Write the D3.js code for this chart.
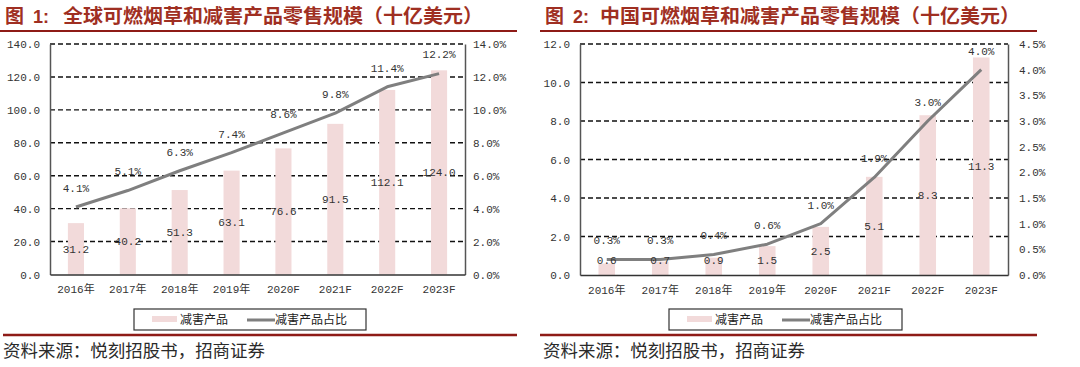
<!DOCTYPE html>
<html><head><meta charset="utf-8">
<script src="https://cdn.jsdelivr.net/npm/d3@7"></script>
<style>
html,body{margin:0;padding:0;background:#fff;}
svg{display:block;}
text{font-family:"Liberation Mono","Noto Sans CJK SC",monospace;}
</style></head>
<body><svg id="c" width="1080" height="367"></svg>
<script>
const categories = ["2016年","2017年","2018年","2019年","2020F","2021F","2022F","2023F"];
const globalSales = [31.2, 40.2, 51.3, 63.1, 76.6, 91.5, 112.1, 124.0];
const globalShare = [4.1, 5.1, 6.3, 7.4, 8.6, 9.8, 11.4, 12.2];
const chinaSales = [0.6, 0.7, 0.9, 1.5, 2.5, 5.1, 8.3, 11.3];
const chinaShare = [0.3, 0.3, 0.4, 0.6, 1.0, 1.9, 3.0, 4.0];
const globalLeftTicks = [0, 20, 40, 60, 80, 100, 120, 140];
const globalRightTicks = [0, 2, 4, 6, 8, 10, 12, 14];
const chinaLeftTicks = [0, 2, 4, 6, 8, 10, 12];
const chinaRightTicks = [0, 0.5, 1, 1.5, 2, 2.5, 3, 3.5, 4, 4.5];
const titles = ["全球可燃烟草和减害产品零售规模（十亿美元）", "中国可燃烟草和减害产品零售规模（十亿美元）"];
const titleNums = ["1", "2"];
const legendNames = ["减害产品", "减害产品占比"];
const sourceText = "资料来源：悦刻招股书，招商证券";

const svg = d3.select("#c");
const RED = "#8e1b17", TITLE = "#9f2f22", BAR = "#f2dada", LINE = "#7f7f7f";

function drawPanel(o) {
  const g = svg.append("g");
  // title
  g.append("text").attr("x", o.ox + 5).attr("y", 23)
    .style("font-family", "'Noto Sans CJK SC'").style("font-size", "19px").style("font-weight", "bold")
    .attr("fill", TITLE).text("图");
  g.append("text").attr("x", o.ox + 33).attr("y", 23)
    .style("font-family", "'Liberation Sans','Noto Sans CJK SC'").style("font-size", "18px").style("font-weight", "bold")
    .attr("fill", TITLE).text(o.num + ":");
  g.append("text").attr("x", o.titleX).attr("y", 23)
    .style("font-family", "'Noto Sans CJK SC'").style("font-size", "19px").style("font-weight", "bold")
    .attr("fill", TITLE).attr("textLength", o.titleW).attr("lengthAdjust", "spacingAndGlyphs").text(o.title);
  g.append("line").attr("x1", o.ox).attr("x2", o.lineEnd).attr("y1", 31).attr("y2", 31)
    .attr("stroke", RED).attr("stroke-width", 2);

  const x = d3.scaleBand().domain(categories).range([o.x0, o.x1]);
  const yL = d3.scaleLinear().domain([0, d3.max(o.lt)]).range([o.yb, o.yt]);
  const yR = d3.scaleLinear().domain([0, d3.max(o.rt)]).range([o.yb, o.yt]);
  const bw = x.bandwidth() * 0.31;

  // gridlines
  g.append("g").selectAll("line").data(o.lt.filter(d => d > 0)).join("line")
    .attr("x1", o.x0).attr("x2", o.x1).attr("y1", d => yL(d)).attr("y2", d => yL(d))
    .attr("stroke", "#111").attr("stroke-width", 1.4).attr("stroke-dasharray", "5,3");

  // bars
  g.append("g").selectAll("rect").data(o.sales).join("rect")
    .attr("x", (d, i) => x(categories[i]) + x.bandwidth() / 2 - bw / 2)
    .attr("y", d => yL(d)).attr("width", bw).attr("height", d => o.yb - yL(d))
    .attr("fill", BAR);

  // axes
  const fmtL = d3.format(".1f");
  const ax = (sel) => {
    sel.selectAll("text").attr("fill", "#333").style("font-size", "11px").style("font-family", "'Liberation Mono','Noto Sans CJK SC'");
    sel.select(".domain").attr("stroke", "#555").attr("stroke-width", 1.5);
  };
  g.append("g").attr("transform", `translate(${o.x0},0)`)
    .call(d3.axisLeft(yL).tickValues(o.lt).tickFormat(fmtL).tickSize(0).tickSizeOuter(0).tickPadding(10)).call(ax);
  g.append("g").attr("transform", `translate(${o.x1},0)`)
    .call(d3.axisRight(yR).tickValues(o.rt).tickFormat(d => fmtL(d) + "%").tickSize(0).tickSizeOuter(0).tickPadding(o.rPad)).call(ax);
  const xa = g.append("g").attr("transform", `translate(0,${o.yb})`)
    .call(d3.axisBottom(x).tickSize(0).tickSizeOuter(0).tickPadding(11)).call(ax);
  xa.select(".domain").attr("stroke", "#333");

  // line
  const line = d3.line().x((d, i) => x(categories[i]) + x.bandwidth() / 2).y(d => yR(d));
  g.append("path").datum(o.share).attr("d", line).attr("fill", "none")
    .attr("stroke", LINE).attr("stroke-width", 3).attr("stroke-linejoin", "round");

  // labels
  g.append("g").selectAll("text").data(o.sales).join("text")
    .attr("x", (d, i) => x(categories[i]) + x.bandwidth() / 2)
    .attr("y", d => Math.min((yL(d) + o.yb) / 2, o.yb - 15))
    .attr("dy", "0.35em").attr("text-anchor", "middle")
    .attr("fill", "#333").style("font-size", "11px").text(d => fmtL(d));
  g.append("g").selectAll("text").data(o.share).join("text")
    .attr("x", (d, i) => x(categories[i]) + x.bandwidth() / 2)
    .attr("y", d => yR(d) - 19)
    .attr("dy", "0.35em").attr("text-anchor", "middle")
    .attr("fill", "#333").style("font-size", "11px").text(d => fmtL(d) + "%");

  // legend
  const lg = g.append("g");
  lg.append("rect").attr("x", o.lx).attr("y", 309).attr("width", o.lw).attr("height", 21)
    .attr("fill", "#fff").attr("stroke", "#333").attr("stroke-width", 1.2);
  lg.append("rect").attr("x", o.lx + 18).attr("y", 316).attr("width", 25).attr("height", 6).attr("fill", BAR);
  lg.append("text").attr("x", o.lx + 46).attr("y", 320).attr("dy", "0.35em")
    .style("font-family", "'Noto Sans CJK SC'").style("font-size", "12px").attr("fill", "#222").text(legendNames[0]);
  lg.append("line").attr("x1", o.lx + 113).attr("x2", o.lx + 141).attr("y1", 320).attr("y2", 320)
    .attr("stroke", LINE).attr("stroke-width", 3);
  lg.append("text").attr("x", o.lx + 141).attr("y", 320).attr("dy", "0.35em")
    .style("font-family", "'Noto Sans CJK SC'").style("font-size", "12px").attr("fill", "#222").text(legendNames[1]);

  // bottom rule + source
  g.append("line").attr("x1", o.ox + o.bStart).attr("x2", o.lineEnd).attr("y1", 335).attr("y2", 335)
    .attr("stroke", RED).attr("stroke-width", 2.5);
  g.append("text").attr("x", o.ox + 3).attr("y", 357)
    .style("font-family", "'Noto Sans CJK SC'").style("font-size", "17px").attr("fill", "#2a2a2a")
    .attr("textLength", 262).attr("lengthAdjust", "spacingAndGlyphs").text(sourceText);
}

drawPanel({ox: 0, num: titleNums[0], title: titles[0], titleX: 63, titleW: 420, lineEnd: 517, bStart: 3,
  x0: 50, x1: 465, yt: 44, yb: 274.5, lt: globalLeftTicks, rt: globalRightTicks, rPad: 8,
  sales: globalSales, share: globalShare, lx: 134, lw: 232});
drawPanel({ox: 540, num: titleNums[1], title: titles[1], titleX: 600, titleW: 420, lineEnd: 1037, bStart: 0,
  x0: 580, x1: 1008, yt: 44, yb: 275, lt: chinaLeftTicks, rt: chinaRightTicks, rPad: 11,
  sales: chinaSales, share: chinaShare, lx: 669, lw: 233});
</script></body></html>
